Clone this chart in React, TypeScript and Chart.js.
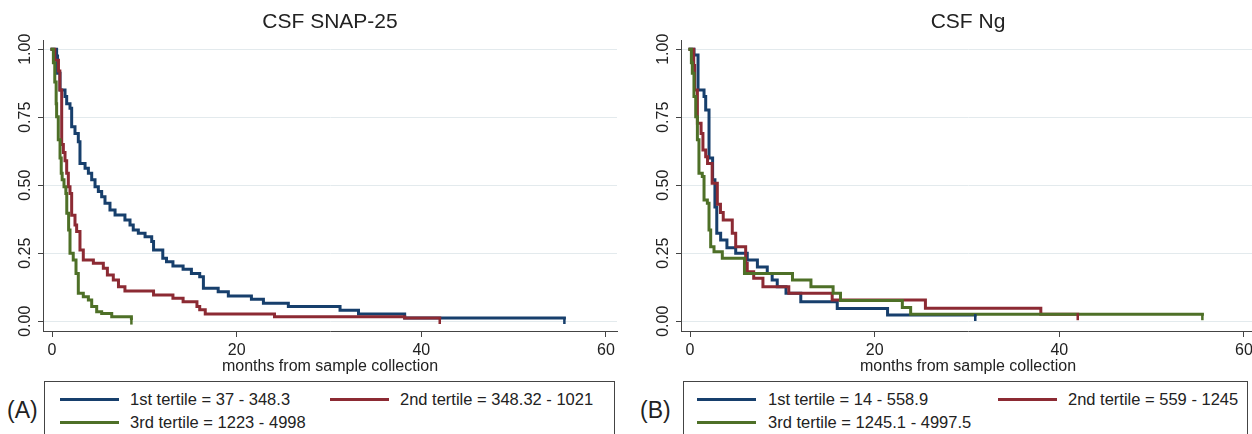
import React, { useEffect, useRef } from "react";
import { Chart, registerables } from "chart.js";

Chart.register(...registerables);

// ---------- data ----------
const xTickValues = [0, 20, 40, 60];
const yTickValues = [0, 0.25, 0.5, 0.75, 1];
const xAxisTitle = "months from sample collection";

const seriesColors = ["#173f6c", "#8c2a33", "#4e7027"];

// CSF SNAP-25
const snapTitle = "CSF SNAP-25";
const snapLegend = ["1st tertile = 37 - 348.3", "2nd tertile = 348.32 - 1021", "3rd tertile = 1223 - 4998"];
const snapTime1 = [0, 0.5, 0.6, 0.87, 1.41, 1.59, 1.95, 2.13, 2.49, 2.85, 3.03, 3.58, 3.94, 4.3, 4.66, 5.02, 5.38, 5.74, 6.28, 6.83, 7.9, 8.45, 8.8, 9.35, 10.08, 10.8, 11.0, 12.0, 12.4, 13.1, 14.2, 15.1, 16.0, 16.4, 18.0, 19.1, 21.6, 22.9, 25.6, 31.2, 33.2, 38.2, 55.5];
const snapSurv1 = [1, 0.975, 0.912, 0.85, 0.826, 0.8, 0.783, 0.715, 0.69, 0.66, 0.58, 0.5625, 0.544, 0.52, 0.495, 0.477, 0.458, 0.434, 0.409, 0.391, 0.372, 0.354, 0.336, 0.324, 0.311, 0.293, 0.262, 0.232, 0.219, 0.203, 0.191, 0.176, 0.164, 0.121, 0.109, 0.093, 0.081, 0.066, 0.054, 0.041, 0.027, 0.012, 0.012];
const snapTime2 = [0, 0.3, 0.7, 0.85, 1.05, 1.23, 1.41, 1.59, 1.77, 1.95, 2.13, 2.49, 2.67, 3.03, 3.39, 4.48, 5.56, 6.0, 6.64, 7.2, 7.9, 11.0, 13.1, 14.2, 15.7, 16.0, 16.6, 24.1, 38.2, 42.0];
const snapSurv2 = [1, 0.96, 0.92, 0.85, 0.65, 0.62, 0.59, 0.544, 0.495, 0.47, 0.39, 0.354, 0.33, 0.262, 0.225, 0.213, 0.195, 0.17, 0.152, 0.127, 0.111, 0.097, 0.085, 0.072, 0.054, 0.042, 0.027, 0.017, 0.012, 0.012];
const snapTime3 = [0, 0.15, 0.3, 0.45, 0.5, 0.68, 0.87, 1.0, 1.1, 1.3, 1.5, 1.6, 1.8, 1.95, 2.3, 2.6, 2.85, 3.39, 3.94, 4.3, 4.84, 5.38, 6.47, 8.6];
const snapSurv3 = [1, 0.95, 0.88, 0.8, 0.752, 0.667, 0.6, 0.544, 0.52, 0.495, 0.47, 0.397, 0.336, 0.25, 0.225, 0.176, 0.103, 0.09, 0.078, 0.054, 0.035, 0.029, 0.017, 0.01];

// CSF Ng
const ngTitle = "CSF Ng";
const ngLegend = ["1st tertile = 14 - 558.9", "2nd tertile = 559 - 1245", "3rd tertile = 1245.1 - 4997.5"];
const ngTime1 = [0, 0.43, 0.87, 1.52, 1.7, 2.06, 2.45, 2.7, 2.9, 3.32, 4.0, 4.95, 6.2, 7.3, 8.37, 8.9, 9.45, 10.4, 12.0, 15.95, 21.4, 30.9];
const ngSurv1 = [1, 0.979, 0.85, 0.826, 0.777, 0.6, 0.52, 0.42, 0.324, 0.299, 0.27, 0.25, 0.225, 0.2, 0.176, 0.152, 0.127, 0.103, 0.072, 0.047, 0.023, 0.023];
const ngTime2 = [0, 0.4, 0.5, 0.8, 1.2, 1.4, 1.7, 1.9, 2.4, 2.96, 3.3, 3.6, 4.58, 4.95, 6.03, 6.2, 6.9, 7.9, 10.7, 15.4, 25.5, 38.0, 42.0];
const ngSurv2 = [1, 0.94, 0.85, 0.728, 0.69, 0.63, 0.605, 0.58, 0.507, 0.43, 0.4, 0.372, 0.324, 0.274, 0.213, 0.182, 0.158, 0.127, 0.103, 0.078, 0.048, 0.026, 0.026];
const ngTime3 = [0, 0.15, 0.25, 0.43, 0.62, 0.8, 0.97, 1.33, 1.52, 1.88, 2.06, 2.24, 2.6, 3.5, 5.9, 11.1, 13.1, 15.5, 16.3, 23.0, 23.9, 55.5];
const ngSurv3 = [1, 0.95, 0.912, 0.826, 0.752, 0.667, 0.544, 0.532, 0.446, 0.434, 0.336, 0.274, 0.256, 0.232, 0.176, 0.152, 0.127, 0.103, 0.076, 0.051, 0.026, 0.026];

// ---------- styling ----------
const FONT = "'Liberation Sans', Arial, Helvetica, sans-serif";
const TEXT = "#222222";
const AXIS = "#444444";

const censorTicks = {
  id: "censorTicks",
  afterDatasetsDraw(chart: any) {
    const ctx = chart.ctx;
    chart.data.datasets.forEach((ds: any, i: number) => {
      const meta = chart.getDatasetMeta(i);
      const pts = meta.data;
      if (!pts || !pts.length) return;
      const last = pts[pts.length - 1];
      ctx.save();
      ctx.strokeStyle = ds.borderColor;
      ctx.lineWidth = 2.5;
      ctx.beginPath();
      ctx.moveTo(last.x, last.y - 1);
      ctx.lineTo(last.x, last.y + 6);
      ctx.stroke();
      ctx.restore();
    });
  },
};

// title centred over the plot area (Stata style)
const plotTitle = {
  id: "plotTitle",
  afterDraw(chart: any, _args: any, opts: any) {
    const ctx = chart.ctx;
    const { left, right } = chart.chartArea;
    ctx.save();
    ctx.fillStyle = TEXT;
    ctx.font = `21px ${FONT}`;
    ctx.textAlign = "center";
    ctx.textBaseline = "middle";
    ctx.fillText(opts.text, (left + right) / 2, 22);
    ctx.restore();
  },
};

type Series = { t: number[]; s: number[]; color: string; label: string; order: number };

function KMChart({ title, series }: { title: string; series: Series[] }) {
  const ref = useRef<HTMLCanvasElement | null>(null);
  useEffect(() => {
    if (!ref.current) return;
    const chart = new Chart(ref.current, {
      type: "line",
      data: {
        datasets: series.map((sr) => ({
          label: sr.label,
          data: sr.t.map((t, i) => ({ x: t, y: sr.s[i] })),
          borderColor: sr.color,
          backgroundColor: sr.color,
          borderWidth: 3,
          stepped: "before",
          pointRadius: 0,
          fill: false,
          order: sr.order,
          borderCapStyle: "square",
          borderJoinStyle: "miter",
        })),
      },
      options: {
        animation: false,
        responsive: false,
        maintainAspectRatio: false,
        events: [],
        layout: { padding: { left: 0, right: 9, top: 40, bottom: 0 } },
        plugins: {
          legend: { display: false },
          tooltip: { enabled: false },
          title: { display: false },
          plotTitle: { text: title },
        },
        scales: {
          x: {
            type: "linear",
            min: -0.975,
            max: 61.2,
            afterBuildTicks: (s: any) => {
              s.ticks = xTickValues.map((v) => ({ value: v }));
            },
            afterFit: (s: any) => {
              s.height = 49;
            },
            ticks: {
              color: TEXT,
              font: { family: FONT, size: 16 },
              padding: 4,
              maxRotation: 0,
              autoSkip: false,
              callback: (v: any) => String(v),
            },
            grid: { display: true, drawOnChartArea: false, tickLength: 6, tickColor: AXIS, tickWidth: 1 },
            border: { display: true, color: AXIS, width: 1 },
            title: {
              display: true,
              text: xAxisTitle,
              color: TEXT,
              font: { family: FONT, size: 16 },
              padding: { top: 0, bottom: 4 },
            },
          },
          y: {
            type: "linear",
            min: -0.0357,
            max: 1.034,
            afterBuildTicks: (s: any) => {
              s.ticks = yTickValues.map((v) => ({ value: v }));
            },
            afterFit: (s: any) => {
              s.width = 43;
            },
            ticks: {
              color: TEXT,
              font: { family: FONT, size: 16 },
              minRotation: 90,
              maxRotation: 90,
              crossAlign: "center",
              padding: -3,
              autoSkip: false,
              callback: (v: any) => Number(v).toFixed(2),
            },
            grid: { color: "#e3eaed", lineWidth: 1, tickLength: 5, tickColor: AXIS },
            border: { display: true, color: AXIS, width: 1 },
          },
        },
      } as any,
      plugins: [censorTicks, plotTitle],
    });
    return () => chart.destroy();
  }, []);
  return <canvas ref={ref} width={626} height={380} style={{ display: "block", width: 626, height: 380 }} />;
}

type LegendPos = { line1: number; text1: number; line2: number; text2: number };

function Legend({ labels, pos }: { labels: string[]; pos: LegendPos }) {
  const rows = [
    { line: pos.line1, text: pos.text1, top: 17 },
    { line: pos.line2, text: pos.text2, top: 17 },
    { line: pos.line1, text: pos.text1, top: 40 },
  ];
  return (
    <>
      {labels.map((lab, i) => (
        <React.Fragment key={i}>
          <div
            style={{
              position: "absolute",
              left: rows[i].line,
              top: rows[i].top - 1.5,
              width: 59,
              height: 3,
              background: seriesColors[i],
            }}
          />
          <div
            style={{
              position: "absolute",
              left: rows[i].text,
              top: rows[i].top - 9,
              fontSize: 16.5,
              lineHeight: "18px",
              color: TEXT,
              whiteSpace: "nowrap",
            }}
          >
            {lab}
          </div>
        </React.Fragment>
      ))}
    </>
  );
}

function Panel({
  left,
  title,
  series,
  legend,
  boxLeft,
  boxWidth,
  pos,
}: {
  left: number;
  title: string;
  series: Series[];
  legend: string[];
  boxLeft: number;
  boxWidth: number;
  pos: LegendPos;
}) {
  return (
    <div style={{ position: "absolute", left, top: 0, width: 626, height: 434 }}>
      <div style={{ position: "absolute", left: 0, top: 0 }}>
        <KMChart title={title} series={series} />
      </div>
      <div
        style={{
          position: "absolute",
          left: boxLeft,
          top: 381,
          width: boxWidth,
          height: 70,
          border: "1.5px solid #444",
          boxSizing: "border-box",
        }}
      >
        <Legend labels={legend} pos={pos} />
      </div>
    </div>
  );
}

export default function App() {
  const snapSeries: Series[] = [
    { t: snapTime1, s: snapSurv1, color: seriesColors[0], label: snapLegend[0], order: 3 },
    { t: snapTime2, s: snapSurv2, color: seriesColors[1], label: snapLegend[1], order: 2 },
    { t: snapTime3, s: snapSurv3, color: seriesColors[2], label: snapLegend[2], order: 1 },
  ];
  const ngSeries: Series[] = [
    { t: ngTime1, s: ngSurv1, color: seriesColors[0], label: ngLegend[0], order: 3 },
    { t: ngTime2, s: ngSurv2, color: seriesColors[1], label: ngLegend[1], order: 2 },
    { t: ngTime3, s: ngSurv3, color: seriesColors[2], label: ngLegend[2], order: 1 },
  ];
  return (
    <>
      <style>{"body{margin:0;background:#fff}"}</style>
      <div
        style={{
          position: "relative",
          width: 1252,
          height: 434,
          overflow: "hidden",
          background: "#ffffff",
          fontFamily: FONT,
        }}
      >
        <Panel
          left={0}
          title={snapTitle}
          series={snapSeries}
          legend={snapLegend}
          boxLeft={44}
          boxWidth={571}
          pos={{ line1: 15, text1: 85, line2: 285, text2: 355 }}
        />
        <Panel
          left={638}
          title={ngTitle}
          series={ngSeries}
          legend={ngLegend}
          boxLeft={45}
          boxWidth={565}
          pos={{ line1: 13, text1: 84, line2: 314, text2: 384 }}
        />
        <div style={{ position: "absolute", left: 7, top: 396, fontSize: 23, lineHeight: "28px", color: TEXT }}>(A)</div>
        <div style={{ position: "absolute", left: 640, top: 396, fontSize: 23, lineHeight: "28px", color: TEXT }}>(B)</div>
      </div>
    </>
  );
}
